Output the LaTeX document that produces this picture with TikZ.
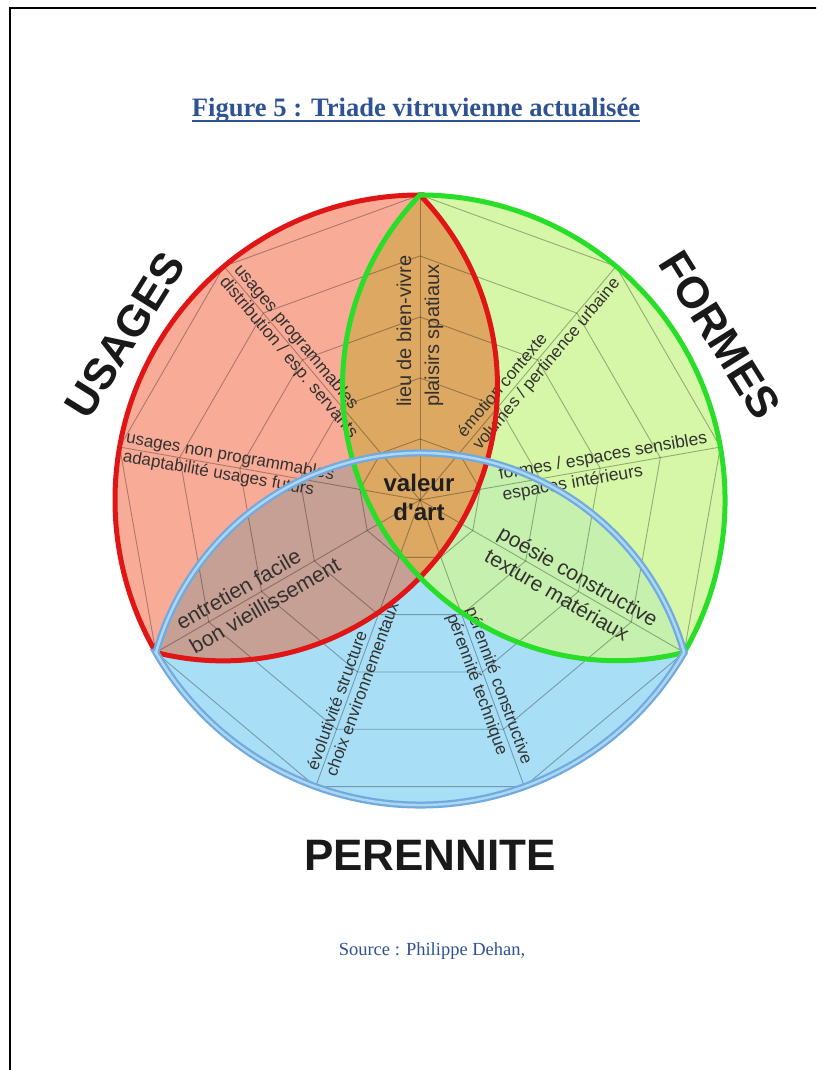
\documentclass[tikz,border=0pt]{standalone}
\usepackage{fontspec}
\setmainfont{Liberation Serif}
\setsansfont{Liberation Sans}[Ligatures=TeXOff]
\definecolor{salmon}{RGB}{248,172,152}
\definecolor{lgreen}{RGB}{214,246,168}
\definecolor{lblue}{RGB}{168,222,246}
\definecolor{tanc}{RGB}{220,168,98}
\definecolor{mauve}{RGB}{198,160,148}
\definecolor{mint}{RGB}{198,240,174}
\definecolor{redline}{RGB}{224,22,22}
\definecolor{greenline}{RGB}{40,222,40}
\definecolor{blueline}{RGB}{112,170,222}
\definecolor{bluein}{RGB}{172,214,242}
\definecolor{titleblue}{RGB}{46,83,149}
\definecolor{lbltext}{RGB}{52,50,48}
\newcommand\lenspath[1]{({#1-60}:305) arc[start angle={#1-60}, end angle={#1+60}, radius=305] arc[start angle={#1+105.87}, end angle={#1+254.13}, radius=274.57] -- cycle}
\tikzset{
  web/.style={draw=black, draw opacity=0.3, line width=0.9pt},
  lbl/.style={anchor=west, align=left, inner sep=0pt, text=lbltext},
  big/.style={inner sep=0pt, font=\sffamily\bfseries\fontsize{44}{44}\selectfont, text=black!90},
  redstroke/.style={draw=redline, line width=5pt},
  greenstroke/.style={draw=greenline, line width=5pt},
  bluestroke/.style={draw=blueline, line width=7pt},
  blueinner/.style={draw=bluein, line width=2.5pt}
}
\begin{document}
\begin{tikzpicture}[x=1pt,y=1pt]
\useasboundingbox (0,0) rectangle (816,1070);
\clip (0,0) rectangle (816,1070);
\fill[white] (0,0) rectangle (816,1070);
\draw[line width=2pt] (10,-10) -- (10,1062) -- (830,1062);

\node[inner sep=0pt, anchor=base, text=titleblue, font=\bfseries\fontsize{26.6}{30}\selectfont] (title) at (416,953) {Figure 5 : Triade vitruvienne actualisée};
\draw[titleblue, line width=2pt] ([yshift=-4.5pt]title.base west) -- ([yshift=-4.5pt]title.base east);

\node[inner sep=0pt, anchor=base, text=titleblue, font=\fontsize{18.5}{22}\selectfont] (source) at (432,114) {Source : Philippe Dehan,};

\begin{scope}[shift={(420,570)}]
\coordinate (C0) at (0,0);
% fills
\fill[salmon] \lenspath{150};
\fill[lgreen] \lenspath{30};
\fill[lblue] \lenspath{270};
\begin{scope}
  \clip \lenspath{150};
  \fill[tanc] \lenspath{30};
  \fill[mauve] \lenspath{270};
\end{scope}
\begin{scope}
  \clip \lenspath{30};
  \fill[mint] \lenspath{270};
\end{scope}
\begin{scope}
  \clip \lenspath{150};
  \clip \lenspath{30};
  \fill[tanc] \lenspath{270};
\end{scope}
% web
\foreach \a in {90,130,...,410} \draw[web] (C0) -- (\a:305);
\foreach \k in {61,122,183,244,305}
  \draw[web] (90:\k) -- (130:\k) -- (170:\k) -- (210:\k) -- (250:\k) -- (290:\k) -- (330:\k) -- (370:\k) -- (410:\k) -- cycle;
% labels
\node[lbl, rotate=90, font=\sffamily\fontsize{20}{28}\selectfont] (lieu) at (90:93) {lieu de bien-vivre\\plaisirs spatiaux};
\node[lbl, rotate=50, font=\sffamily\fontsize{17}{20}\selectfont] (emotion) at (50:76) {émotion contexte\\volumes / pertinence urbaine};
\node[lbl, rotate=10, font=\sffamily\fontsize{17.5}{21}\selectfont] (formes) at (10:82) {formes / espaces sensibles\\espaces intérieurs};
\node[lbl, rotate=-30, font=\sffamily\fontsize{21}{27}\selectfont] (poesie) at (-30:85) {poésie constructive\\texture matériaux};
\node[lbl, rotate=-70, font=\sffamily\fontsize{17}{20}\selectfont] (perenn) at (-70:118) {pérennité constructive\\pérennité technique};
\node[lbl, rotate=70, font=\sffamily\fontsize{17}{20}\selectfont] (evol) at (-110:290) {évolutivité structure\\choix environnementaux};
\node[lbl, rotate=30, font=\sffamily\fontsize{21.5}{27}\selectfont] (entretien) at (-150:272) {entretien facile\\bon vieillissement};
\node[lbl, rotate=-10, font=\sffamily\fontsize{17}{19}\selectfont] (nonprog) at (170:300) {usages non programmables\\adaptabilité usages futurs};
\node[lbl, rotate=-50, font=\sffamily\fontsize{17.5}{19}\selectfont] (prog) at (130:296) {usages programmables\\distribution / esp. servants};
% strokes
\draw[redstroke] \lenspath{150};
\draw[greenstroke] \lenspath{30};
\draw[bluestroke] \lenspath{270};
\draw[blueinner] \lenspath{270};
% centre
\node[inner sep=0pt, align=center, text=black!88, font=\sffamily\bfseries\fontsize{24}{29}\selectfont] (valeur) at (-1,2.5) {valeur\\d'art};
% titles
\node[big, rotate=58] (usages) at (-295,165) {USAGES};
\node[big, rotate=-58] (formesT) at (300,165) {FORMES};
\node[big] (perennite) at (10,-355) {PERENNITE};
\end{scope}
\end{tikzpicture}
\end{document}
